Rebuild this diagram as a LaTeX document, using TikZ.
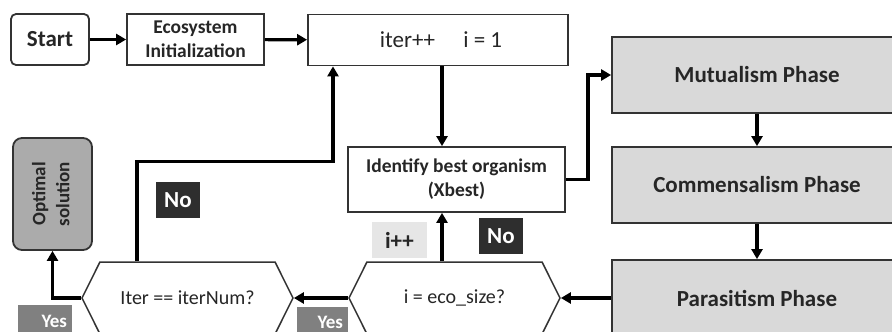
\documentclass[tikz,border=0pt]{standalone}
\usepackage{fontspec}
\setmainfont{Carlito}
\usetikzlibrary{arrows.meta,shapes.symbols}

\definecolor{ink}{HTML}{262626}
\definecolor{edge}{HTML}{333333}
\definecolor{phasefill}{HTML}{D9D9D9}
\definecolor{optfill}{HTML}{ABABAB}
\definecolor{darklab}{HTML}{2E2E2E}
\definecolor{lightlab}{HTML}{E6E6E6}
\definecolor{yesfill}{HTML}{808080}

\tikzset{
  box/.style={draw=edge, line width=1.8pt, fill=white, text=ink, inner sep=0pt, align=center},
  bigtext/.style={font=\bfseries\fontsize{23}{27}\selectfont},
  midtext/.style={font=\bfseries\fontsize{19.5}{24}\selectfont},
  phase/.style={box, bigtext, fill=phasefill, minimum width=290pt, minimum height=76pt},
  hex/.style={draw=edge, line width=1.5pt, fill=white, text=ink, shape=signal,
    signal to=east and west, signal pointer angle=127,
    minimum width=211pt, minimum height=72pt, inner sep=0pt,
    font=\fontsize{20}{24}\selectfont},
  arr/.style={line width=3.2pt, -{Triangle[length=10pt,width=11pt]}},
  tag/.style={inner sep=0pt, minimum height=36pt, font=\bfseries\fontsize{23}{27}\selectfont},
  yestag/.style={fill=yesfill, text=white, inner ysep=0pt, inner xsep=5pt,
    minimum height=36pt, align=right, font=\bfseries\fontsize{19}{23}\selectfont},
}

\begin{document}
\begin{tikzpicture}[x=1pt, y=-1pt]
  \useasboundingbox (0,0) rectangle (892,332);
  \clip (0,0) rectangle (892,332);

  % top row
  \node[box, bigtext, rounded corners=5pt, minimum width=78pt, minimum height=51pt] (start) at (50,39.5) {Start};
  \node[box, midtext, minimum width=137pt, minimum height=51pt] (init) at (195.5,39.5) {Ecosystem\\Initialization};
  \node[box, font=\fontsize{23}{27}\selectfont, minimum width=260pt, minimum height=51pt] (iter) at (438,40) {\hspace*{6pt}iter++\quad\ i = 1};

  % best organism
  \node[box, midtext, minimum width=217pt, minimum height=65pt] (best) at (456.5,179.5) {Identify best organism\\(Xbest)};

  % phases
  \node[phase] (mutual) at (757,75) {Mutualism Phase};
  \node[phase] (commens) at (757,185) {Commensalism Phase};
  \node[phase] (parasit) at (757,298) {Parasitism Phase};

  % decisions
  \node[hex] (ecocheck) at (454.5,298) {i = eco\_size?};
  \node[hex] (itercheck) at (187.5,298) {Iter == iterNum?};

  % result
  \node[box, fill=optfill, rounded corners=9pt, minimum width=79pt, minimum height=112pt,
        font=\bfseries\fontsize{19}{24}\selectfont] (optimal) at (52.5,194)
        {\rotatebox{90}{\begin{tabular}{@{}c@{}}Optimal\\solution\end{tabular}}};

  % branch labels
  \node[tag, fill=darklab, text=white, minimum width=44pt] (no1) at (178,200) {No};
  \node[tag, fill=darklab, text=white, minimum width=44pt] (no2) at (501,236) {No};
  \node[tag, fill=lightlab, text=ink, minimum width=55pt] (inc) at (399.5,240) {i++};
  \node[yestag, text width=44pt] (yes1) at (45,323) {\raisebox{3pt}{Yes}};
  \node[yestag, text width=41pt] (yes2) at (322.5,325) {\raisebox{6pt}{Yes}};

  % connectors
  \draw[arr] (start) -- (init);
  \draw[arr] (init) -- (iter);
  \draw[arr] ([xshift=4pt]iter.south) -- ([xshift=4pt]iter.south |- best.north);
  \draw[arr] (best.east) -- ++(22,0) |- (mutual.west);
  \draw[arr] (mutual) -- (commens);
  \draw[arr] (commens) -- (parasit);
  \draw[arr] (parasit.west) -- (ecocheck.east);
  \draw[arr] ([xshift=-12.5pt]ecocheck.north) -- ([xshift=-12.5pt]ecocheck.north |- best.south);
  \draw[arr] (ecocheck.west) -- (itercheck.east);
  \draw[arr] ([xshift=-50.5pt]itercheck.north) -- ++(0,-100) -| ([xshift=-105pt]iter.south);
  \draw[arr] (itercheck.west) -| (optimal.south);
\end{tikzpicture}
\end{document}
